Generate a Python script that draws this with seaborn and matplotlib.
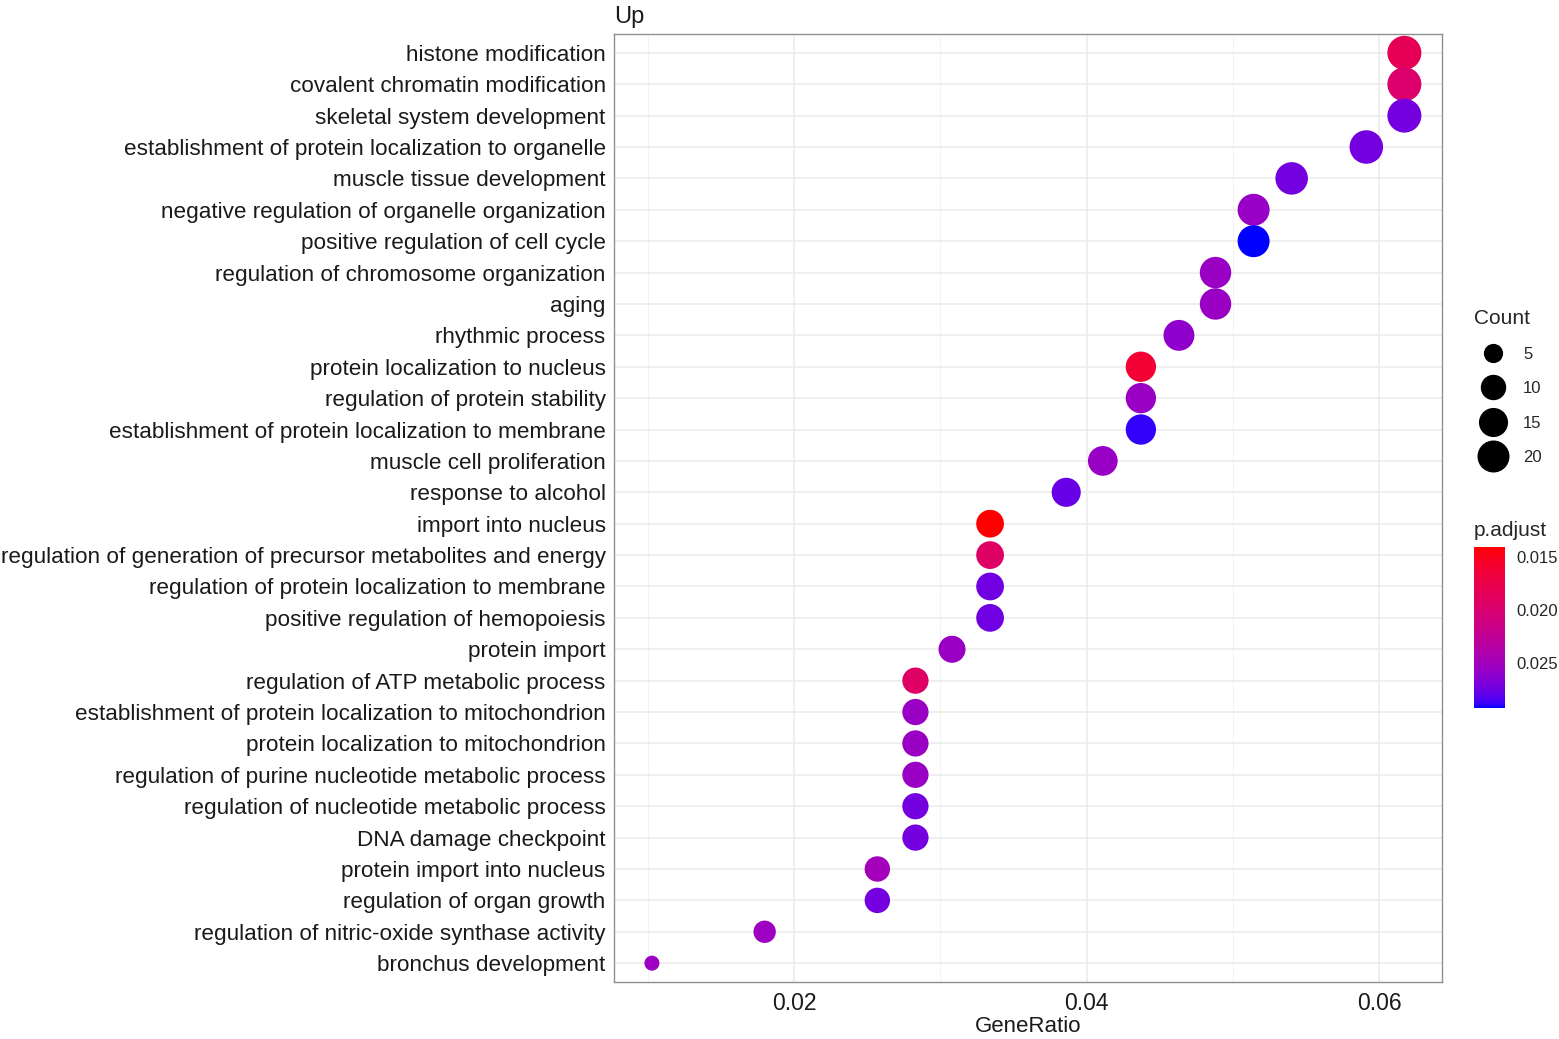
import numpy as np
import pandas as pd
import matplotlib
matplotlib.use("Agg")
import matplotlib.pyplot as plt
from matplotlib.colors import ListedColormap, Normalize
from matplotlib.lines import Line2D
import seaborn as sns

# GO terms, top to bottom as in the figure
terms = [
    "histone modification",
    "covalent chromatin modification",
    "skeletal system development",
    "establishment of protein localization to organelle",
    "muscle tissue development",
    "negative regulation of organelle organization",
    "positive regulation of cell cycle",
    "regulation of chromosome organization",
    "aging",
    "rhythmic process",
    "protein localization to nucleus",
    "regulation of protein stability",
    "establishment of protein localization to membrane",
    "muscle cell proliferation",
    "response to alcohol",
    "import into nucleus",
    "regulation of generation of precursor metabolites and energy",
    "regulation of protein localization to membrane",
    "positive regulation of hemopoiesis",
    "protein import",
    "regulation of ATP metabolic process",
    "establishment of protein localization to mitochondrion",
    "protein localization to mitochondrion",
    "regulation of purine nucleotide metabolic process",
    "regulation of nucleotide metabolic process",
    "DNA damage checkpoint",
    "protein import into nucleus",
    "regulation of organ growth",
    "regulation of nitric-oxide synthase activity",
    "bronchus development",
]
gene_ratio = [0.0617, 0.0617, 0.0617, 0.0591, 0.0540, 0.0514, 0.0514, 0.0488,
              0.0488, 0.0463, 0.0437, 0.0437, 0.0437, 0.0411, 0.0386, 0.0334,
              0.0334, 0.0334, 0.0334, 0.0308, 0.0283, 0.0283, 0.0283, 0.0283,
              0.0283, 0.0283, 0.0257, 0.0257, 0.0180, 0.0103]
counts = [24, 24, 24, 23, 21, 20, 20, 19, 19, 18, 17, 17, 17, 16, 15, 13,
          13, 13, 13, 12, 11, 11, 11, 11, 11, 11, 10, 10, 7, 4]
p_adjust = [0.0183, 0.0197, 0.0272, 0.0272, 0.0272, 0.0256, 0.0292, 0.0255,
            0.0255, 0.0260, 0.0162, 0.0255, 0.0288, 0.0256, 0.0277, 0.0141,
            0.0192, 0.0274, 0.0274, 0.0255, 0.0193, 0.0255, 0.0255, 0.0255,
            0.0272, 0.0272, 0.0248, 0.0272, 0.0252, 0.0252]
size_breaks = [5, 10, 15, 20]

df = pd.DataFrame({"term": terms, "GeneRatio": gene_ratio,
                   "Count": counts, "p.adjust": p_adjust})

# red -> blue gradient interpolated in Lab space (like ggplot)
M = np.array([[0.4124, 0.3576, 0.1805], [0.2126, 0.7152, 0.0722], [0.0193, 0.1192, 0.9505]])
WHITE = np.array([0.95047, 1.0, 1.08883])


def to_lab(rgb):
    c = np.asarray(rgb, float)
    c = np.where(c > 0.04045, ((c + 0.055) / 1.055) ** 2.4, c / 12.92)
    xyz = M @ c / WHITE
    f = np.where(xyz > 0.008856, np.cbrt(xyz), 7.787 * xyz + 16 / 116)
    return np.array([116 * f[1] - 16, 500 * (f[0] - f[1]), 200 * (f[1] - f[2])])


def from_lab(lab):
    L, a, b = lab
    fy = (L + 16) / 116
    f = np.array([fy + a / 500, fy, fy - b / 200])
    xyz = np.where(f > 0.2069, f ** 3, (f - 16 / 116) / 7.787) * WHITE
    c = np.clip(np.linalg.inv(M) @ xyz, 0, None)
    c = np.where(c > 0.0031308, 1.055 * c ** (1 / 2.4) - 0.055, 12.92 * c)
    return np.clip(c, 0, 1)


lab_lo, lab_hi = to_lab([1, 0, 0]), to_lab([0, 0, 1])
cmap = ListedColormap([from_lab(lab_lo + t * (lab_hi - lab_lo)) for t in np.linspace(0, 1, 256)])
norm = Normalize(vmin=min(p_adjust), vmax=max(p_adjust))

# ggplot area scale: diameter grows with sqrt of rescaled count
DPI = 100
cmin, cmax = min(counts), max(counts)


def diam_pt(c):
    px = 15 + 19 * np.sqrt(max(c - cmin, 0) / (cmax - cmin))
    return px * 72 / DPI


sizes = {c: diam_pt(c) ** 2 for c in sorted(set(counts))}

sns.set_style("white")
plt.rcParams["font.family"] = ["Liberation Sans", "DejaVu Sans"]

fig = plt.figure(figsize=(15.59, 10.39), dpi=DPI)
ax = fig.add_axes([614 / 1559, 1 - 982 / 1039, 828 / 1559, 948 / 1039])

sns.scatterplot(data=df, x="GeneRatio", y="term", size="Count", sizes=sizes,
                hue="p.adjust", palette=cmap, hue_norm=norm, linewidth=0,
                legend=False, ax=ax, zorder=3)

ax.set_xlim(0.00771, 0.06427)
ax.set_ylim(len(terms) - 0.4, -0.6)
ax.set_xticks([0.02, 0.04, 0.06])
ax.set_xticklabels(["0.02", "0.04", "0.06"])
ax.set_xticks([0.01, 0.03, 0.05], minor=True)
ax.grid(True, which="major", color="#ebebeb", linewidth=1.1, zorder=0)
ax.grid(True, which="minor", axis="x", color="#f1f1f1", linewidth=0.6, zorder=0)
ax.set_axisbelow(True)
for sp in ax.spines.values():
    sp.set_color("#8f8f8f")
    sp.set_linewidth(1.0)
ax.tick_params(axis="both", which="major", length=4, width=1, color="#333333",
               labelsize=16.2, labelcolor="#1a1a1a", pad=2)
ax.tick_params(axis="x", which="major", pad=3, labelsize=16.5)
ax.tick_params(axis="x", which="minor", length=0)
ax.set_xlabel("GeneRatio", fontsize=16, labelpad=1, color="#1a1a1a")
ax.set_ylabel("")
ax.set_title("Up", loc="left", fontsize=17, pad=8, color="#1a1a1a")

# size legend
handles = [Line2D([], [], marker="o", linestyle="", color="black",
                  markeredgewidth=0, markersize=diam_pt(b)) for b in size_breaks]
leg = fig.legend(handles, [str(b) for b in size_breaks], title="Count",
                 loc="upper left", bbox_to_anchor=(1474 / 1559, 1 - 309 / 1039),
                 frameon=False, fontsize=12, title_fontsize=15,
                 handletextpad=0.66, labelspacing=1.15, borderaxespad=0,
                 borderpad=0, alignment="left", handlelength=2.28)

# colour bar
cax = fig.add_axes([1474 / 1559, 1 - 708 / 1039, 31 / 1559, 161 / 1039])
sm = plt.cm.ScalarMappable(cmap=cmap, norm=norm)
cb = fig.colorbar(sm, cax=cax, ticks=[0.015, 0.020, 0.025])
cb.outline.set_visible(False)
cax.invert_yaxis()
cb.ax.set_yticklabels(["0.015", "0.020", "0.025"])
cax.tick_params(axis="y", direction="in", length=6, width=1, color="white",
                labelsize=12, pad=8, left=True, right=True)
cax.set_title("p.adjust", loc="left", fontsize=15, pad=8)

fig.savefig("out.png", dpi=DPI)
